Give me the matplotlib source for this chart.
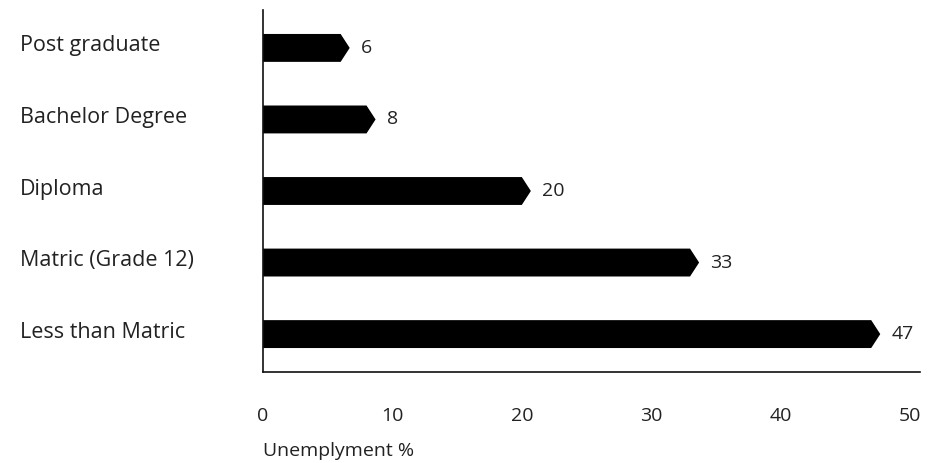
import matplotlib
matplotlib.use("Agg")
import matplotlib.pyplot as plt
from matplotlib.patches import Polygon

categories = ["Less than Matric", "Matric (Grade 12)", "Diploma", "Bachelor Degree", "Post graduate"]
values = [47, 33, 20, 8, 6]
xticks = [0, 10, 20, 30, 40, 50]
xlabel = "Unemplyment %"

plt.rcParams['font.family'] = ['Open Sans', 'DejaVu Sans']
TXT = "#222222"

fig = plt.figure(figsize=(9.35, 4.63), dpi=100)
W, H = 935, 463
ax = fig.add_axes([263 / W, 1 - 372 / H, (920 - 263) / W, (372 - 10) / H])

xmax = 50.77
ax.set_xlim(0, xmax)
ax.set_ylim(-0.53, len(categories) - 1 + 0.53)

bar_h = 0.39
tip = 0.7
for i, v in enumerate(values):
    pts = [(0, i - bar_h / 2), (v, i - bar_h / 2), (v + tip, i),
           (v, i + bar_h / 2), (0, i + bar_h / 2)]
    ax.add_patch(Polygon(pts, closed=True, facecolor="black", edgecolor="none"))
    ax.annotate(str(v), xy=(v + tip, i), xytext=(8, 0), textcoords="offset points",
                ha="left", va="center", fontsize=14, color=TXT)

for s in ["top", "right"]:
    ax.spines[s].set_visible(False)
for s in ["left", "bottom"]:
    ax.spines[s].set_color("#111111")
    ax.spines[s].set_linewidth(1.2)

ax.set_xticks(xticks)
ax.set_xticklabels([str(t) for t in xticks], fontsize=14, color=TXT)
ax.tick_params(axis="x", length=0, pad=25)
ax.set_yticks([])

for i, c in enumerate(categories):
    fig.text(20 / W, 1 - (334 - i * 71.5 - 2) / H, c, ha="left", va="center",
             fontsize=15.5, color=TXT)

fig.text(263 / W, 1 - 451 / H, xlabel, ha="left", va="center", fontsize=14, color=TXT)

fig.savefig("out.png", dpi=100, facecolor="white")
